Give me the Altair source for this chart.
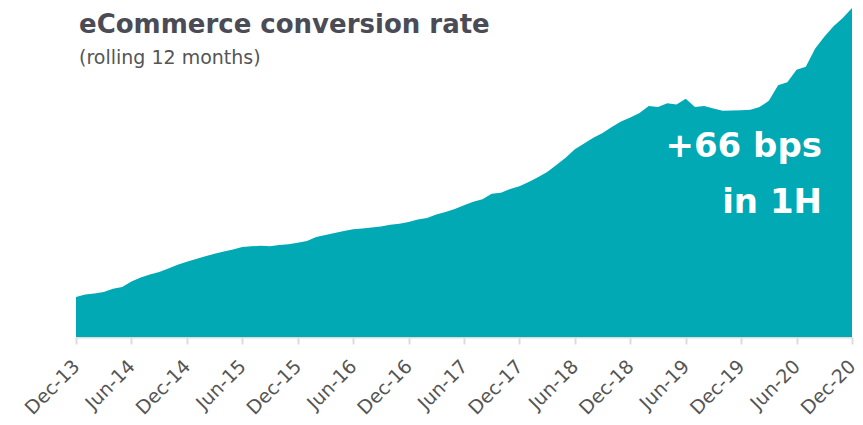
import altair as alt
import pandas as pd

# Monthly rolling-12-month conversion rate (%), Dec-13 .. Dec-20
rate = [
    0.403, 0.430, 0.440, 0.453, 0.487, 0.505, 0.560, 0.600, 0.630, 0.657, 0.690, 0.730,
    0.760, 0.786, 0.814, 0.840, 0.862, 0.883, 0.908, 0.915, 0.920, 0.917, 0.929, 0.937,
    0.950, 0.970, 1.010, 1.030, 1.050, 1.070, 1.088, 1.096, 1.105, 1.115, 1.133, 1.142,
    1.160, 1.185, 1.200, 1.235, 1.262, 1.292, 1.330, 1.364, 1.390, 1.445, 1.456, 1.493,
    1.520, 1.563, 1.613, 1.665, 1.735, 1.808, 1.895, 1.953, 2.010, 2.058, 2.120, 2.174,
    2.215, 2.260, 2.330, 2.320, 2.358, 2.345, 2.403, 2.320, 2.330, 2.305, 2.283, 2.285,
    2.288, 2.293, 2.320, 2.385, 2.540, 2.570, 2.697, 2.727, 2.910, 3.030, 3.137, 3.220,
    3.320,
]
month_index = list(range(len(rate)))
tick_labels = ["Dec-13", "Jun-14", "Dec-14", "Jun-15", "Dec-15", "Jun-16", "Dec-16",
               "Jun-17", "Dec-17", "Jun-18", "Dec-18", "Jun-19", "Dec-19", "Jun-20", "Dec-20"]
tick_values = [i * 6 for i in range(len(tick_labels))]

title_text = "eCommerce conversion rate"
subtitle_text = "(rolling 12 months)"
note_lines = ["+66 bps", "in 1H"]

df = pd.DataFrame({"m": month_index, "rate": rate})

label_expr = "[" + ",".join("'%s'" % t for t in tick_labels) + "][round(datum.value/6)]"

FONT = "DejaVu Sans"

area = alt.Chart(df).mark_area(color="#00A9B4", interpolate="linear").encode(
    x=alt.X("m:Q", scale=alt.Scale(domain=[0, 84], nice=False, zero=False),
            axis=alt.Axis(values=tick_values, labelExpr=label_expr, title=None,
                          grid=False, domainColor="#dcdcdc", tickColor="#dcdcdc",
                          tickSize=7, tickWidth=2, domainWidth=2,
                          labelAngle=315, labelAlign="right", labelBaseline="middle",
                          labelPadding=19, labelFont=FONT, labelFontSize=19,
                          labelColor="#555555", labelOverlap=False)),
    y=alt.Y("rate:Q", scale=alt.Scale(domain=[0, 3.32], nice=False), axis=None),
)

title = alt.Chart().mark_text(align="left", baseline="alphabetic", font=FONT,
                               fontSize=26, fontWeight="bold", color="#4a4b55").encode(
    x=alt.value(3), y=alt.value(25), text=alt.value(title_text))
subtitle = alt.Chart().mark_text(align="left", baseline="alphabetic", font=FONT,
                                  fontSize=19, color="#555555").encode(
    x=alt.value(3), y=alt.value(56), text=alt.value(subtitle_text))
note1 = alt.Chart().mark_text(align="right", baseline="alphabetic", font=FONT,
                               fontSize=34, fontWeight="bold", color="white").encode(
    x=alt.value(746), y=alt.value(149), text=alt.value(note_lines[0]))
note2 = alt.Chart().mark_text(align="right", baseline="alphabetic", font=FONT,
                               fontSize=34, fontWeight="bold", color="white").encode(
    x=alt.value(746), y=alt.value(205), text=alt.value(note_lines[1]))

chart = alt.layer(area, title, subtitle, note1, note2).properties(
    width=776, height=329,
    padding={"left": 68, "top": 0, "right": 3, "bottom": 86},
    autosize=alt.AutoSizeParams(type="none"),
).configure(background="white").configure_view(stroke=None, strokeWidth=0)

chart.save("out.html", embed_options={"renderer": "svg", "actions": False})
